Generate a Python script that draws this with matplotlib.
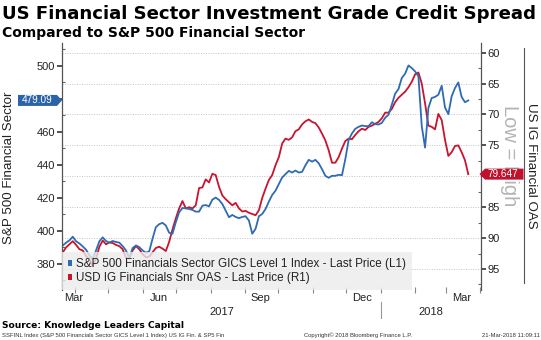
import matplotlib
matplotlib.use('Agg')
import matplotlib.pyplot as plt
import matplotlib.dates as mdates
import matplotlib.ticker as mticker
import matplotlib.transforms as mtransforms
from matplotlib.patches import Polygon, Patch
from matplotlib.lines import Line2D
import pandas as pd

# ---------------- data ----------------
start_date = '2017-03-21'
end_date = '2018-03-21'
n_obs = 123

spx_fin = [391.2, 392.9, 394.3, 396.5, 393.7, 392.4, 390.6, 388.6, 385.2, 382.8,
           388.2, 393.7, 396.1, 393.9, 392.9, 393.9, 393.3, 392.9, 390.8, 388.2,
           383.6, 389.6, 391.2, 390.2, 388.2, 386.8, 387.6, 395.3, 402.3, 404.1,
           404.9, 403.3, 398.9, 398.3, 405.3, 411.3, 413.9, 413.7, 413.3, 412.7,
           411.7, 411.7, 415.3, 415.7, 414.9, 419.0, 420.2, 418.8, 416.3, 412.3,
           408.3, 409.7, 408.5, 407.7, 408.5, 408.9, 406.3, 398.3, 401.3, 408.9,
           410.3, 413.3, 417.8, 421.8, 424.4, 428.4, 432.4, 434.4, 436.4, 435.4,
           436.6, 435.4, 435.8, 439.8, 443.1, 442.0, 443.1, 441.0, 437.4, 433.4,
           432.2, 433.4, 433.4, 434.0, 433.8, 443.5, 455.1, 459.1, 461.9, 463.1,
           463.9, 463.5, 463.5, 465.9, 464.7, 464.5, 465.5, 468.6, 470.4, 476.6,
           483.2, 486.0, 492.7, 495.3, 500.3, 498.7, 496.7, 493.7, 463.5, 450.5,
           474.6, 480.6, 481.2, 482.6, 488.0, 474.8, 470.8, 481.6, 486.6, 490.0,
           481.2, 478.0, 479.09]

ig_oas = [92.3, 91.5, 91.0, 90.5, 91.1, 91.8, 92.0, 92.9, 93.4, 94.5,
          93.3, 91.4, 90.4, 91.0, 90.7, 90.8, 91.1, 91.3, 91.8, 93.2,
          93.3, 92.0, 91.3, 91.8, 92.6, 93.1, 93.0, 92.3, 91.6, 91.4,
          91.7, 92.1, 90.6, 88.6, 86.8, 85.2, 84.0, 85.2, 85.0, 85.2,
          84.7, 81.9, 81.8, 80.5, 81.0, 79.6, 79.8, 81.7, 83.1, 83.7,
          84.2, 84.7, 84.3, 85.2, 85.7, 85.6, 85.9, 86.1, 86.3, 85.5,
          83.5, 82.0, 80.6, 79.8, 78.2, 76.9, 74.7, 73.9, 74.1, 73.7,
          72.7, 72.4, 71.6, 71.1, 70.8, 71.2, 71.4, 72.1, 73.1, 74.2,
          75.8, 77.8, 77.8, 76.9, 75.5, 74.3, 73.9, 74.0, 73.3, 72.7,
          72.3, 72.5, 72.0, 71.8, 71.5, 71.2, 70.6, 69.7, 69.7, 69.1,
          68.0, 67.3, 66.8, 66.3, 65.6, 64.7, 63.5, 63.2, 65.0, 68.2,
          71.8, 72.0, 72.4, 69.9, 70.9, 74.1, 76.7, 76.1, 75.1, 75.0,
          76.1, 77.4, 79.647]

left_ticks = [380, 400, 420, 440, 460, 480, 500]
right_ticks = [60, 65, 70, 75, 80, 85, 90, 95]
month_labels = ['Mar', 'Jun', 'Sep', 'Dec', 'Mar']
month_label_dates = ['2017-03-31', '2017-06-15', '2017-09-15', '2017-12-15', '2018-03-15']
year_labels = ['2017', '2018']
year_label_dates = ['2017-08-11', '2018-02-15']
year_break_date = '2018-01-01'

series_names = ['S&P 500 Financials Sector GICS Level 1 Index - Last Price (L1)',
                'USD IG Financials Snr OAS - Last Price (R1)']

title = 'US Financial Sector Investment Grade Credit Spread'
subtitle = 'Compared to S&P 500 Financial Sector'
left_label = 'S&P 500 Financial Sector'
right_label = 'US IG Financial OAS'
note = 'Low = High'
source = 'Source: Knowledge Leaders Capital'
foot_left = 'SSFINL Index (S&P 500 Financials Sector GICS Level 1 Index) US IG Fin. & SP5 Fin'
foot_mid = 'Copyright\u00a9 2018 Bloomberg Finance L.P.'
foot_right = '21-Mar-2018 11:09:11'

# ---------------- style ----------------
BLUE = '#2f6bb3'
RED = '#c8142f'
TAG_BLUE = '#2b63a8'
TAG_RED = '#c0112d'
GRID = '#c4c4c4'
AX = '#555555'
plt.rcParams['font.family'] = ['Liberation Sans', 'DejaVu Sans']

W, H = 541, 340
fig = plt.figure(figsize=(W / 100, H / 100), dpi=100)
fig.patch.set_facecolor('white')

left_px, right_px, top_px, bot_px = 61.7, 480.5, 43, 290
ax = fig.add_axes([left_px / W, 1 - bot_px / H, (right_px - left_px) / W, (bot_px - top_px) / H])
ax2 = ax.twinx()
ax.set_zorder(2)
ax2.set_zorder(1)
ax.patch.set_visible(False)

dates = pd.date_range(start_date, end_date, periods=n_obs)

ax2.plot(dates, ig_oas, color=RED, lw=1.3, solid_joinstyle='round')
ax.plot(dates, spx_fin, color=BLUE, lw=1.3, solid_joinstyle='round')

ax.set_xlim(pd.Timestamp('2017-03-20'), pd.Timestamp('2018-04-01'))
ax.set_ylim(364.2, 513.9)
ax2.set_ylim(98.4, 58.43)

# x axis
ax.xaxis.set_major_locator(mdates.MonthLocator(bymonth=[1, 4, 7, 10]))
ax.xaxis.set_minor_locator(mdates.MonthLocator())
for a in (ax, ax2):
    a.tick_params(axis='x', which='both', labelbottom=False, direction='inout',
                  length=4, width=0.8, color='#888888')
ax2.grid(True, which='major', axis='x', linestyle=(0, (1, 1.5)), color=GRID, lw=0.7)
ax2.grid(True, which='major', axis='y', linestyle=(0, (1, 1.5)), color=GRID, lw=0.7)

# left y (label under the value tag is covered in the reference)
ax.set_yticks(left_ticks)
ax.set_yticklabels([str(t) if abs(t - spx_fin[-1]) > 5 else '' for t in left_ticks])
ax.yaxis.set_minor_locator(mticker.MultipleLocator(10))
ax.tick_params(axis='y', which='major', direction='out', length=3.5, width=1.2,
               color='#333333', labelsize=8, labelcolor='#222222', pad=1.5)
ax.tick_params(axis='y', which='minor', direction='in', length=2.5, width=0.8, color='#666666')

# right y
ax2.set_yticks(right_ticks)
ax2.set_yticklabels([str(t) if abs(t - ig_oas[-1]) > 1.5 else '' for t in right_ticks])
ax2.yaxis.set_minor_locator(mticker.MultipleLocator(2.5))
ax2.tick_params(axis='y', which='major', direction='out', length=3.5, width=1.2,
                color='#333333', labelsize=8, labelcolor='#222222', pad=1.5)
ax2.tick_params(axis='y', which='minor', direction='in', length=2.5, width=0.8, color='#666666')

for s in ('top', 'bottom', 'right'):
    ax.spines[s].set_visible(False)
for s in ('top', 'bottom', 'left'):
    ax2.spines[s].set_visible(False)
ax.spines['left'].set_color(AX)
ax.spines['left'].set_linewidth(0.9)
ax2.spines['right'].set_color(AX)
ax2.spines['right'].set_linewidth(0.9)

# month / year labels
blend = mtransforms.blended_transform_factory(ax.transData, ax.transAxes)
for lab, d in zip(month_labels, month_label_dates):
    ax.text(pd.Timestamp(d), -0.034, lab, transform=blend, ha='center', va='center',
            fontsize=8, color='#222222', clip_on=False)
for lab, d in zip(year_labels, year_label_dates):
    ax.text(pd.Timestamp(d), -0.088, lab, transform=blend, ha='center', va='center',
            fontsize=8, color='#222222', clip_on=False)
ax.plot([pd.Timestamp(year_break_date)] * 2, [-0.05, -0.115], transform=blend,
        color='#999999', lw=0.8, clip_on=False)

# legend
handles = [Patch(facecolor=BLUE, edgecolor='none'), Patch(facecolor=RED, edgecolor='none')]
leg = ax.legend(handles, series_names, loc='lower left', bbox_to_anchor=(0, 0),
                borderaxespad=0, frameon=True, fancybox=False, facecolor='#ebebeb',
                edgecolor='none', framealpha=0.8, fontsize=8.4, handlelength=0.42,
                handleheight=0.42, handletextpad=0.3, labelspacing=0.2, borderpad=0.5)
leg.set_zorder(5)
for t in leg.get_texts():
    t.set_color('#222222')

# value tags on axes
fx = lambda px: px / W
fy = lambda py: 1 - py / H
x_last = mdates.date2num(dates[-1])
yb = ax.transData.transform((x_last, spx_fin[-1]))[1] / H
yr = ax2.transData.transform((x_last, ig_oas[-1]))[1] / H
hh = 5.5 / H
fig.add_artist(Polygon([(fx(18), yb - hh), (fx(57), yb - hh), (fx(62), yb),
                        (fx(57), yb + hh), (fx(18), yb + hh)], closed=True,
                       facecolor=TAG_BLUE, edgecolor='none', transform=fig.transFigure, zorder=5))
fig.text(fx(37), yb, f'{spx_fin[-1]:.2f}', color='white', fontsize=7.2,
         ha='center', va='center', zorder=6)
fig.add_artist(Polygon([(fx(479.5), yr), (fx(485), yr + hh), (fx(523.5), yr + hh),
                        (fx(523.5), yr - hh), (fx(485), yr - hh)], closed=True,
                       facecolor=TAG_RED, edgecolor='none', transform=fig.transFigure, zorder=5))
fig.text(fx(503), yr, f'{ig_oas[-1]:.3f}', color='white', fontsize=7.2,
         ha='center', va='center', zorder=6)

# axis titles and annotations
fig.text(fx(9), fy(167.5), left_label, rotation=90, ha='center', va='center',
         fontsize=9.6, color='#222222')
fig.text(fx(531), fy(166), right_label, rotation=270, ha='center', va='center',
         fontsize=9.6, color='#222222')
fig.add_artist(Line2D([fx(524.3)] * 2, [fy(48), fy(283)], transform=fig.transFigure,
                      color=AX, lw=0.8))
fig.text(fx(510), fy(156), note, rotation=270, ha='center', va='center',
         fontsize=14.5, color='#b4b4b4', zorder=1)

# titles
fig.text(fx(2), fy(19), title, ha='left', va='baseline', fontsize=13.05,
         fontweight='bold', family='DejaVu Sans', color='black')
fig.text(fx(2), fy(36.5), subtitle, ha='left', va='baseline', fontsize=10,
         fontweight='bold', family='DejaVu Sans', color='black')

# footer
fig.text(fx(2), fy(325), source, ha='left', va='center', fontsize=6.6,
         fontweight='bold', family='DejaVu Sans', color='black')
fig.text(fx(2), fy(335.5), foot_left, ha='left', va='center', fontsize=4.2, color='#333333')
fig.text(fx(304), fy(335.5), foot_mid, ha='left', va='center', fontsize=4.2, color='#333333')
fig.text(fx(540), fy(335.5), foot_right, ha='right', va='center', fontsize=4.2, color='#333333')

fig.savefig('out.png', dpi=100)
